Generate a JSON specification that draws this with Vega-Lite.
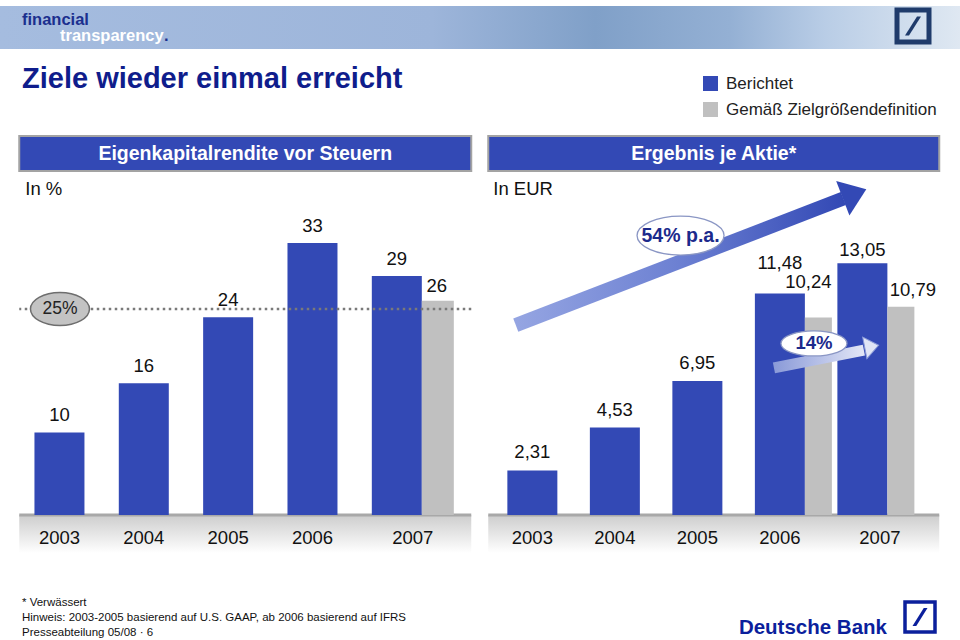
{
  "$schema": "https://vega.github.io/schema/vega-lite/v6.json",
  "padding": 0,
  "background": "white",
  "spacing": 0,
  "center": true,
  "config": {
    "font": "Liberation Sans",
    "view": {"stroke": null},
    "locale": {"number": {"decimal": ",", "thousands": ".", "grouping": [3], "currency": ["", " €"]}}
  },
  "datasets": {
    "roe": [
      {"year": 2003, "series": "Berichtet", "value": 10},
      {"year": 2004, "series": "Berichtet", "value": 16},
      {"year": 2005, "series": "Berichtet", "value": 24},
      {"year": 2006, "series": "Berichtet", "value": 33},
      {"year": 2007, "series": "Berichtet", "value": 29},
      {"year": 2007, "series": "Gemäß Zielgrößendefinition", "value": 26}
    ],
    "eps": [
      {"year": 2003, "series": "Berichtet", "value": 2.31},
      {"year": 2004, "series": "Berichtet", "value": 4.53},
      {"year": 2005, "series": "Berichtet", "value": 6.95},
      {"year": 2006, "series": "Berichtet", "value": 11.48},
      {"year": 2007, "series": "Berichtet", "value": 13.05},
      {"year": 2006, "series": "Gemäß Zielgrößendefinition", "value": 10.24},
      {"year": 2007, "series": "Gemäß Zielgrößendefinition", "value": 10.79}
    ],
    "keys": [
      {"series": "Berichtet"},
      {"series": "Gemäß Zielgrößendefinition"}
    ]
  },
  "vconcat": [
    {
      "width": 960,
      "height": 43,
      "data": {"values": [{"k": 1}]},
      "layer": [
        {"mark": {"type": "rect", "fill": {"gradient": "linear", "x1": 0, "y1": 0, "x2": 1, "y2": 0, "stops": [{"offset": 0, "color": "#a5bcdf"}, {"offset": 0.45, "color": "#9db5da"}, {"offset": 0.62, "color": "#80a0c8"}, {"offset": 0.76, "color": "#94b0d4"}, {"offset": 0.86, "color": "#b9cde6"}, {"offset": 1, "color": "#dfe8f2"}]}}, "encoding": {}},
        {"mark": {"type": "text", "align": "left", "baseline": "alphabetic", "dx": -458, "dy": -3, "fontSize": 16.5, "fontWeight": "bold", "fill": "#1b2f8e"}, "encoding": {"text": {"value": "financial"}}},
        {"mark": {"type": "text", "align": "left", "baseline": "alphabetic", "dx": -420, "dy": 13.5, "fontSize": 16.5, "fontWeight": "bold", "fill": "#ffffff"}, "encoding": {"text": {"value": "transparency"}}},
        {"mark": {"type": "text", "align": "left", "baseline": "alphabetic", "dx": -316, "dy": 13.5, "fontSize": 16.5, "fontWeight": "bold", "fill": "#1b2f8e"}, "encoding": {"text": {"value": "."}}},
        {"mark": {"type": "point", "shape": "square", "size": 1024, "filled": false, "stroke": "#1f3b6b", "strokeWidth": 5, "opacity": 1, "xOffset": 433, "yOffset": -1.5}, "encoding": {}},
        {"mark": {"type": "point", "shape": "M -0.5 0.6 L -0.25 0.6 L 0.5 -0.6 L 0.25 -0.6 Z", "size": 1024, "filled": true, "fill": "#1f3b6b", "opacity": 1, "xOffset": 433, "yOffset": -1.5}, "encoding": {}}
      ]
    },
    {
      "width": 960,
      "height": 83,
      "layer": [
        {"data": {"values": [{"k": 1}]}, "mark": {"type": "rect", "fill": "white"}, "encoding": {}},
        {"data": {"values": [{"k": 1}]}, "mark": {"type": "text", "align": "left", "baseline": "alphabetic", "dx": -458, "dy": -6, "fontSize": 29, "fontWeight": "bold", "fill": "#0f1d8c"}, "encoding": {"text": {"value": "Ziele wieder einmal erreicht"}}},
        {"data": {"name": "keys"}, "transform": [{"filter": "datum.series == 'Berichtet'"}], "mark": {"type": "square", "size": 225, "filled": true, "opacity": 1, "xOffset": 230.5, "yOffset": -10}, "encoding": {"color": {"field": "series", "type": "nominal", "legend": null, "scale": {"domain": ["Berichtet", "Gemäß Zielgrößendefinition"], "range": ["#3349b5", "#c0c0c0"]}}}},
        {"data": {"name": "keys"}, "transform": [{"filter": "datum.series != 'Berichtet'"}], "mark": {"type": "square", "size": 225, "filled": true, "opacity": 1, "xOffset": 230.5, "yOffset": 16}, "encoding": {"color": {"field": "series", "type": "nominal", "legend": null}}},
        {"data": {"name": "keys"}, "transform": [{"filter": "datum.series == 'Berichtet'"}], "mark": {"type": "text", "align": "left", "baseline": "middle", "dx": 246, "dy": -10, "fontSize": 17, "fill": "#222222"}, "encoding": {"text": {"field": "series"}}},
        {"data": {"name": "keys"}, "transform": [{"filter": "datum.series != 'Berichtet'"}], "mark": {"type": "text", "align": "left", "baseline": "middle", "dx": 246, "dy": 16, "fontSize": 17, "fill": "#222222"}, "encoding": {"text": {"field": "series"}}}
      ]
    },
    {
      "spacing": 13,
      "hconcat": [
        {
          "bounds": "flush",
          "spacing": 32,
          "vconcat": [
            {
              "width": 452,
              "height": 35,
              "data": {"values": [{"k": 1}]},
              "layer": [
                {"mark": {"type": "rect", "fill": "#3349b5", "stroke": "#a3a3a3", "strokeWidth": 2}, "encoding": {}},
                {"mark": {"type": "text", "fill": "white", "fontWeight": "bold", "fontSize": 19.5, "baseline": "middle"}, "encoding": {"text": {"value": "Eigenkapitalrendite vor Steuern"}}}
              ]
            },
            {
              "width": 452,
              "height": 312,
              "data": {"name": "roe"},
              "layer": [
                {"data": {"values": [{"k": 1}]}, "mark": {"type": "rect", "fill": {"gradient": "linear", "x1": 0, "y1": 0, "x2": 0, "y2": 1, "stops": [{"offset": 0, "color": "#cdcdcd"}, {"offset": 1, "color": "#ffffff"}]}}, "encoding": {"y": {"datum": 0, "type": "quantitative", "axis": null}, "y2": {"datum": -4.6}}},
                {"data": {"values": [{"k": 1}]}, "mark": {"type": "rule", "stroke": "#a8a8a8", "strokeWidth": 3}, "encoding": {"y": {"datum": 0, "axis": null}}},
                {
                  "transform": [{"filter": "datum.series == 'Berichtet'"}],
                  "mark": {"type": "bar", "orient": "vertical", "width": 50},
                  "encoding": {
                    "x": {"field": "year", "type": "quantitative", "axis": null, "scale": {"domain": [2002.5826, 2007.8232], "nice": false, "zero": false}},
                    "y": {"field": "value", "type": "quantitative", "axis": null, "scale": {"domain": [0, 37.86], "nice": false}},
                    "color": {"field": "series", "type": "nominal", "legend": null, "scale": {"domain": ["Berichtet", "Gemäß Zielgrößendefinition"], "range": ["#3349b5", "#c0c0c0"]}}
                  }
                },
                {
                  "transform": [{"filter": "datum.series != 'Berichtet'"}],
                  "mark": {"type": "bar", "orient": "vertical", "width": 32, "xOffset": 41},
                  "encoding": {
                    "x": {"field": "year", "type": "quantitative", "axis": null},
                    "y": {"field": "value", "type": "quantitative", "axis": null},
                    "color": {"field": "series", "type": "nominal", "legend": null}
                  }
                },
                {"data": {"values": [{"k": 1}]}, "mark": {"type": "rule", "stroke": "#7a7a7a", "strokeWidth": 2.5, "strokeDash": [2.5, 3.5]}, "encoding": {"y": {"datum": 25, "axis": null}}},
                {
                  "transform": [{"filter": "datum.series == 'Berichtet'"}],
                  "mark": {"type": "text", "baseline": "alphabetic", "dy": -11.5, "fontSize": 18.5, "fill": "#111111"},
                  "encoding": {"x": {"field": "year", "type": "quantitative", "axis": null}, "y": {"field": "value", "type": "quantitative", "axis": null}, "text": {"field": "value", "type": "quantitative", "format": "d"}}
                },
                {
                  "transform": [{"filter": "datum.series != 'Berichtet'"}],
                  "mark": {"type": "text", "baseline": "alphabetic", "dx": 40, "dy": -9, "fontSize": 18.5, "fill": "#111111"},
                  "encoding": {"x": {"field": "year", "type": "quantitative", "axis": null}, "y": {"field": "value", "type": "quantitative", "axis": null}, "text": {"field": "value", "type": "quantitative", "format": "d"}}
                },
                {
                  "transform": [{"filter": "datum.series == 'Berichtet' && datum.year < 2007"}],
                  "mark": {"type": "text", "baseline": "alphabetic", "dy": 28.5, "fontSize": 18.5, "fill": "#111111"},
                  "encoding": {"x": {"field": "year", "type": "quantitative", "axis": null}, "y": {"datum": 0, "axis": null}, "text": {"field": "year", "type": "quantitative", "format": "d"}}
                },
                {
                  "transform": [{"filter": "datum.series == 'Berichtet' && datum.year == 2007"}],
                  "mark": {"type": "text", "baseline": "alphabetic", "dx": 16, "dy": 28.5, "fontSize": 18.5, "fill": "#111111"},
                  "encoding": {"x": {"field": "year", "type": "quantitative", "axis": null}, "y": {"datum": 0, "axis": null}, "text": {"field": "year", "type": "quantitative", "format": "d"}}
                },
                {"data": {"values": [{"k": 1}]}, "mark": {"type": "point", "shape": "M-1 0C-1 -0.309 -0.552 -0.56 0 -0.56C0.552 -0.56 1 -0.309 1 0C1 0.309 0.552 0.56 0 0.56C-0.552 0.56 -1 0.309 -1 0Z", "size": 3481, "filled": true, "fill": "#c3c3c3", "stroke": "#6e6e6e", "strokeWidth": 1.5, "opacity": 1}, "encoding": {"x": {"datum": 2003.006, "axis": null}, "y": {"datum": 25, "axis": null}}},
                {"data": {"values": [{"k": 1}]}, "mark": {"type": "text", "baseline": "middle", "fontSize": 17.5, "fill": "#222222"}, "encoding": {"x": {"datum": 2003.006, "axis": null}, "y": {"datum": 25, "axis": null}, "text": {"value": "25%"}}},
                {"data": {"values": [{"k": 1}]}, "mark": {"type": "text", "align": "left", "baseline": "alphabetic", "dx": -220, "dy": -164, "fontSize": 18.5, "fill": "#111111"}, "encoding": {"text": {"value": "In %"}}}
              ]
            }
          ]
        },
        {
          "bounds": "flush",
          "spacing": 32,
          "vconcat": [
            {
              "width": 451,
              "height": 35,
              "data": {"values": [{"k": 1}]},
              "layer": [
                {"mark": {"type": "rect", "fill": "#3349b5", "stroke": "#a3a3a3", "strokeWidth": 2}, "encoding": {}},
                {"mark": {"type": "text", "fill": "white", "fontWeight": "bold", "fontSize": 19.5, "baseline": "middle"}, "encoding": {"text": {"value": "Ergebnis je Aktie*"}}}
              ]
            },
            {
              "width": 451,
              "height": 312,
              "data": {"name": "eps"},
              "layer": [
                {"data": {"values": [{"k": 1}]}, "mark": {"type": "rect", "fill": {"gradient": "linear", "x1": 0, "y1": 0, "x2": 0, "y2": 1, "stops": [{"offset": 0, "color": "#cdcdcd"}, {"offset": 1, "color": "#ffffff"}]}}, "encoding": {"y": {"datum": 0, "type": "quantitative", "axis": null}, "y2": {"datum": -1.96}}},
                {"data": {"values": [{"k": 1}]}, "mark": {"type": "rule", "stroke": "#a8a8a8", "strokeWidth": 3}, "encoding": {"y": {"datum": 0, "axis": null}}},
                {
                  "transform": [{"filter": "datum.series == 'Berichtet'"}],
                  "mark": {"type": "bar", "orient": "vertical", "width": 50},
                  "encoding": {
                    "x": {"field": "year", "type": "quantitative", "axis": null, "scale": {"domain": [2002.526, 2007.871], "nice": false, "zero": false}},
                    "y": {"field": "value", "type": "quantitative", "axis": null, "scale": {"domain": [0, 16.17], "nice": false}},
                    "color": {"field": "series", "type": "nominal", "legend": null, "scale": {"domain": ["Berichtet", "Gemäß Zielgrößendefinition"], "range": ["#3349b5", "#c0c0c0"]}}
                  }
                },
                {
                  "transform": [{"filter": "datum.series != 'Berichtet'"}],
                  "mark": {"type": "bar", "orient": "vertical", "width": 27, "xOffset": 38.5},
                  "encoding": {
                    "x": {"field": "year", "type": "quantitative", "axis": null},
                    "y": {"field": "value", "type": "quantitative", "axis": null},
                    "color": {"field": "series", "type": "nominal", "legend": null}
                  }
                },
                {
                  "transform": [{"filter": "datum.series == 'Berichtet' && datum.year <= 2005"}],
                  "mark": {"type": "text", "baseline": "alphabetic", "dy": -12, "fontSize": 18.5, "fill": "#111111"},
                  "encoding": {"x": {"field": "year", "type": "quantitative", "axis": null}, "y": {"field": "value", "type": "quantitative", "axis": null}, "text": {"field": "value", "type": "quantitative", "format": ".2f"}}
                },
                {
                  "transform": [{"filter": "datum.series == 'Berichtet' && datum.year == 2006"}],
                  "mark": {"type": "text", "baseline": "alphabetic", "dy": -24.5, "fontSize": 18.5, "fill": "#111111"},
                  "encoding": {"x": {"field": "year", "type": "quantitative", "axis": null}, "y": {"field": "value", "type": "quantitative", "axis": null}, "text": {"field": "value", "type": "quantitative", "format": ".2f"}}
                },
                {
                  "transform": [{"filter": "datum.series == 'Berichtet' && datum.year == 2007"}],
                  "mark": {"type": "text", "baseline": "alphabetic", "dy": -7, "fontSize": 18.5, "fill": "#111111"},
                  "encoding": {"x": {"field": "year", "type": "quantitative", "axis": null}, "y": {"field": "value", "type": "quantitative", "axis": null}, "text": {"field": "value", "type": "quantitative", "format": ".2f"}}
                },
                {
                  "transform": [{"filter": "datum.series != 'Berichtet' && datum.year == 2006"}],
                  "mark": {"type": "text", "baseline": "alphabetic", "dx": 28.5, "dy": -29, "fontSize": 18.5, "fill": "#111111"},
                  "encoding": {"x": {"field": "year", "type": "quantitative", "axis": null}, "y": {"field": "value", "type": "quantitative", "axis": null}, "text": {"field": "value", "type": "quantitative", "format": ".2f"}}
                },
                {
                  "transform": [{"filter": "datum.series != 'Berichtet' && datum.year == 2007"}],
                  "mark": {"type": "text", "baseline": "alphabetic", "dx": 50.5, "dy": -11, "fontSize": 18.5, "fill": "#111111"},
                  "encoding": {"x": {"field": "year", "type": "quantitative", "axis": null}, "y": {"field": "value", "type": "quantitative", "axis": null}, "text": {"field": "value", "type": "quantitative", "format": ".2f"}}
                },
                {
                  "transform": [{"filter": "datum.series == 'Berichtet' && datum.year < 2007"}],
                  "mark": {"type": "text", "baseline": "alphabetic", "dy": 28.5, "fontSize": 18.5, "fill": "#111111"},
                  "encoding": {"x": {"field": "year", "type": "quantitative", "axis": null}, "y": {"datum": 0, "axis": null}, "text": {"field": "year", "type": "quantitative", "format": "d"}}
                },
                {
                  "transform": [{"filter": "datum.series == 'Berichtet' && datum.year == 2007"}],
                  "mark": {"type": "text", "baseline": "alphabetic", "dx": 17.5, "dy": 28.5, "fontSize": 18.5, "fill": "#111111"},
                  "encoding": {"x": {"field": "year", "type": "quantitative", "axis": null}, "y": {"datum": 0, "axis": null}, "text": {"field": "year", "type": "quantitative", "format": "d"}}
                },
                {"data": {"values": [{"k": 1}]}, "mark": {"type": "rule", "strokeWidth": 14, "strokeCap": "butt", "stroke": {"gradient": "linear", "x1": 0, "y1": 0, "x2": 1, "y2": 0, "stops": [{"offset": 0, "color": "#95a5e2"}, {"offset": 0.5, "color": "#6c80d2"}, {"offset": 1, "color": "#3349b5"}]}}, "encoding": {"x": {"datum": 2002.799, "axis": null}, "x2": {"datum": 2006.769}, "y": {"datum": 9.84, "axis": null}, "y2": {"datum": 16.4}}},
                {"data": {"values": [{"k": 1}]}, "mark": {"type": "point", "shape": "M -0.68 -1 L 0.68 0 L -0.68 1 Z", "size": 1369, "angle": -21, "filled": true, "fill": "#3349b5", "opacity": 1, "strokeWidth": 0}, "encoding": {"x": {"datum": 2006.905, "axis": null}, "y": {"datum": 16.645, "axis": null}}},
                {"data": {"values": [{"k": 1}]}, "mark": {"type": "point", "shape": "M-1 0C-1 -0.247 -0.552 -0.448 0 -0.448C0.552 -0.448 1 -0.247 1 0C1 0.247 0.552 0.448 0 0.448C-0.552 0.448 -1 0.247 -1 0Z", "size": 7569, "filled": true, "fill": "#ffffff", "stroke": "#8a96c4", "strokeWidth": 1.3, "opacity": 1}, "encoding": {"x": {"datum": 2004.796, "axis": null}, "y": {"datum": 14.48, "axis": null}}},
                {"data": {"values": [{"k": 1}]}, "mark": {"type": "text", "baseline": "middle", "fontSize": 19.5, "fontWeight": "bold", "fill": "#1c2a8c"}, "encoding": {"x": {"datum": 2004.796, "axis": null}, "y": {"datum": 14.48, "axis": null}, "text": {"value": "54% p.a."}}},
                {"data": {"values": [{"k": 1}]}, "mark": {"type": "rule", "strokeWidth": 11, "strokeCap": "butt", "stroke": {"gradient": "linear", "x1": 0, "y1": 0, "x2": 1, "y2": 0, "stops": [{"offset": 0, "color": "#8a9ad8"}, {"offset": 1, "color": "#e2e6f6"}]}}, "encoding": {"x": {"datum": 2005.928, "axis": null}, "x2": {"datum": 2007.018}, "y": {"datum": 7.62, "axis": null}, "y2": {"datum": 8.55}}},
                {"data": {"values": [{"k": 1}]}, "mark": {"type": "point", "shape": "M -0.64 -1 L 0.64 0 L -0.64 1 Z", "size": 484, "angle": -11, "filled": true, "fill": "#e0e5f6", "stroke": "#8a9ad8", "strokeWidth": 1, "opacity": 1}, "encoding": {"x": {"datum": 2007.113, "axis": null}, "y": {"datum": 8.73, "axis": null}}},
                {"data": {"values": [{"k": 1}]}, "mark": {"type": "point", "shape": "M-1 0C-1 -0.209 -0.552 -0.379 0 -0.379C0.552 -0.379 1 -0.209 1 0C1 0.209 0.552 0.379 0 0.379C-0.552 0.379 -1 0.209 -1 0Z", "size": 4356, "filled": true, "fill": "#ffffff", "stroke": "#8a96c4", "strokeWidth": 1.3, "opacity": 1}, "encoding": {"x": {"datum": 2006.413, "axis": null}, "y": {"datum": 8.89, "axis": null}}},
                {"data": {"values": [{"k": 1}]}, "mark": {"type": "text", "baseline": "middle", "fontSize": 18.5, "fontWeight": "bold", "fill": "#1c2a8c"}, "encoding": {"x": {"datum": 2006.413, "axis": null}, "y": {"datum": 8.89, "axis": null}, "text": {"value": "14%"}}},
                {"data": {"values": [{"k": 1}]}, "mark": {"type": "text", "align": "left", "baseline": "alphabetic", "dx": -220.5, "dy": -164, "fontSize": 18.5, "fill": "#111111"}, "encoding": {"text": {"value": "In EUR"}}}
              ]
            }
          ]
        }
      ]
    },
    {
      "width": 960,
      "height": 90,
      "data": {"values": [{"k": 1}]},
      "layer": [
        {"mark": {"type": "rect", "fill": "white"}, "encoding": {}},
        {"mark": {"type": "text", "align": "left", "baseline": "alphabetic", "dx": -458, "dy": 8, "fontSize": 11.5, "lineHeight": 15, "fill": "#111111"}, "encoding": {"text": {"value": ["* Verwässert", "Hinweis: 2003-2005 basierend auf U.S. GAAP, ab 2006 basierend auf IFRS", "Presseabteilung 05/08 · 6"]}}},
        {"mark": {"type": "text", "align": "right", "baseline": "alphabetic", "dx": 407, "dy": 36, "fontSize": 20.5, "fontWeight": "bold", "fill": "#0b1f9c"}, "encoding": {"text": {"value": "Deutsche Bank"}}},
        {"mark": {"type": "point", "shape": "square", "size": 900, "filled": false, "stroke": "#0b1f9c", "strokeWidth": 3.5, "opacity": 1, "xOffset": 440, "yOffset": 19}, "encoding": {}},
        {"mark": {"type": "point", "shape": "M -0.5 0.6 L -0.25 0.6 L 0.5 -0.6 L 0.25 -0.6 Z", "size": 900, "filled": true, "fill": "#0b1f9c", "opacity": 1, "xOffset": 440, "yOffset": 19}, "encoding": {}}
      ]
    }
  ]
}
